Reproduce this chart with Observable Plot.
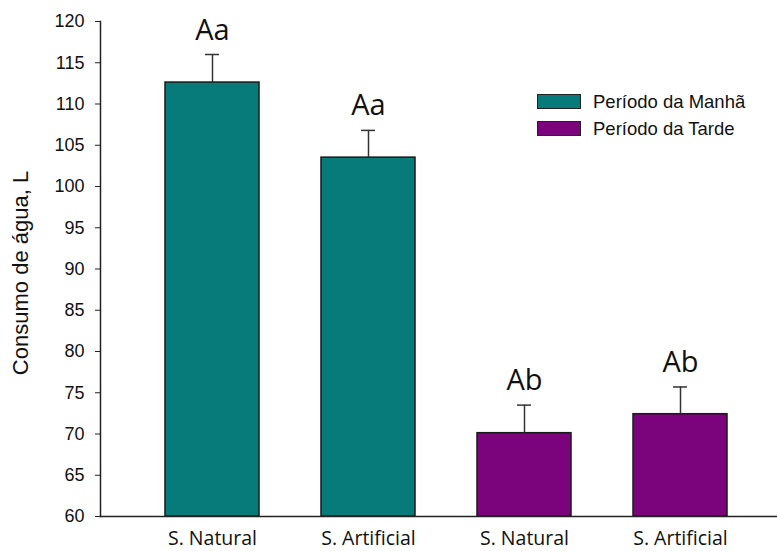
<!DOCTYPE html>
<html>
<head>
<meta charset="utf-8">
<script src="https://cdn.jsdelivr.net/npm/d3@7"></script>
<script src="https://cdn.jsdelivr.net/npm/@observablehq/plot@0.6"></script>
<style>
  html, body { margin: 0; padding: 0; background: #fff; }
  #wrap { position: relative; width: 777px; height: 551px; overflow: hidden; }
  #legend { position: absolute; left: 537px; top: 94px; font-family: "Liberation Sans", Arial, sans-serif; font-size: 18.5px; color: #111; }
  .row { display: flex; align-items: center; height: 15px; margin-bottom: 12px; }
  .sw { width: 42px; height: 13px; border: 1px solid #222; margin-right: 12px; }
</style>
</head>
<body>
<div id="wrap"><div id="legend"></div></div>
<script>
const categories = ["S. Natural", "S. Artificial", "S. Natural ", "S. Artificial "];
const tickLabels = ["S. Natural", "S. Artificial", "S. Natural", "S. Artificial"];
const periods = ["Período da Manhã", "Período da Manhã", "Período da Tarde", "Período da Tarde"];
const means = [112.6, 103.5, 70.1, 72.4];
const errors = [3.4, 3.3, 3.4, 3.3];
const letters = ["Aa", "Aa", "Ab", "Ab"];
const seriesNames = ["Período da Manhã", "Período da Tarde"];
const seriesColors = ["#067b79", "#7b037b"];
const yTicks = d3.range(60, 121, 5);

const data = categories.map((c, i) => ({cat: c, label: tickLabels[i], period: periods[i], mean: means[i], top: means[i] + errors[i], letter: letters[i]}));

const chart = Plot.plot({
  width: 777,
  height: 551,
  marginTop: 21,
  marginBottom: 35,
  marginLeft: 100,
  marginRight: 0,
  style: {background: "#fff", overflow: "visible"},
  x: {domain: categories, range: [164, 727], paddingInner: 0.4, paddingOuter: 0, label: null},
  y: {domain: [60, 120], label: null},
  color: {domain: seriesNames, range: seriesColors},
  marks: [
    Plot.barY(data, {x: "cat", y1: 60, y2: "mean", fill: "period", stroke: "#1a1a1a", strokeWidth: 1.5}),
    Plot.ruleX(data, {x: "cat", y1: "mean", y2: "top", stroke: "#333", strokeWidth: 1.5}),
    Plot.tickY(data, {x: "cat", y: "top", stroke: "#333", strokeWidth: 1.5, insetLeft: 40, insetRight: 40}),
    Plot.text(data, {x: "cat", y: "top", text: "letter", dy: -15, lineAnchor: "bottom", fontSize: 29, fontFamily: "Open Sans", fill: "#111"}),
    Plot.axisY({ticks: yTicks, tickSize: 5, tickPadding: 11, fontSize: 18, fontFamily: "Liberation Sans", stroke: "#222", fill: "#111", label: null}),
    Plot.axisX({tickSize: 0, tickPadding: 15, fontSize: 19.5, fontFamily: "Open Sans", fill: "#111", tickFormat: (d) => d.trim(), label: null}),
    Plot.frame({anchor: "left", stroke: "#222", strokeWidth: 1.5}),
    Plot.frame({anchor: "bottom", stroke: "#222", strokeWidth: 1.5}),
    Plot.text(["Consumo de água, L"], {frameAnchor: "left", textAnchor: "middle", dx: -80, dy: 4, rotate: -90, fontSize: 22, fontFamily: "Liberation Sans", fill: "#111"})
  ]
});
document.getElementById("wrap").prepend(chart);

const color = chart.scale("color");
const legend = document.getElementById("legend");
seriesNames.forEach((n) => {
  const row = document.createElement("div");
  row.className = "row";
  const sw = document.createElement("div");
  sw.className = "sw";
  sw.style.background = color.apply(n);
  const t = document.createElement("span");
  t.textContent = n;
  row.appendChild(sw);
  row.appendChild(t);
  legend.appendChild(row);
});
</script>
</body>
</html>
